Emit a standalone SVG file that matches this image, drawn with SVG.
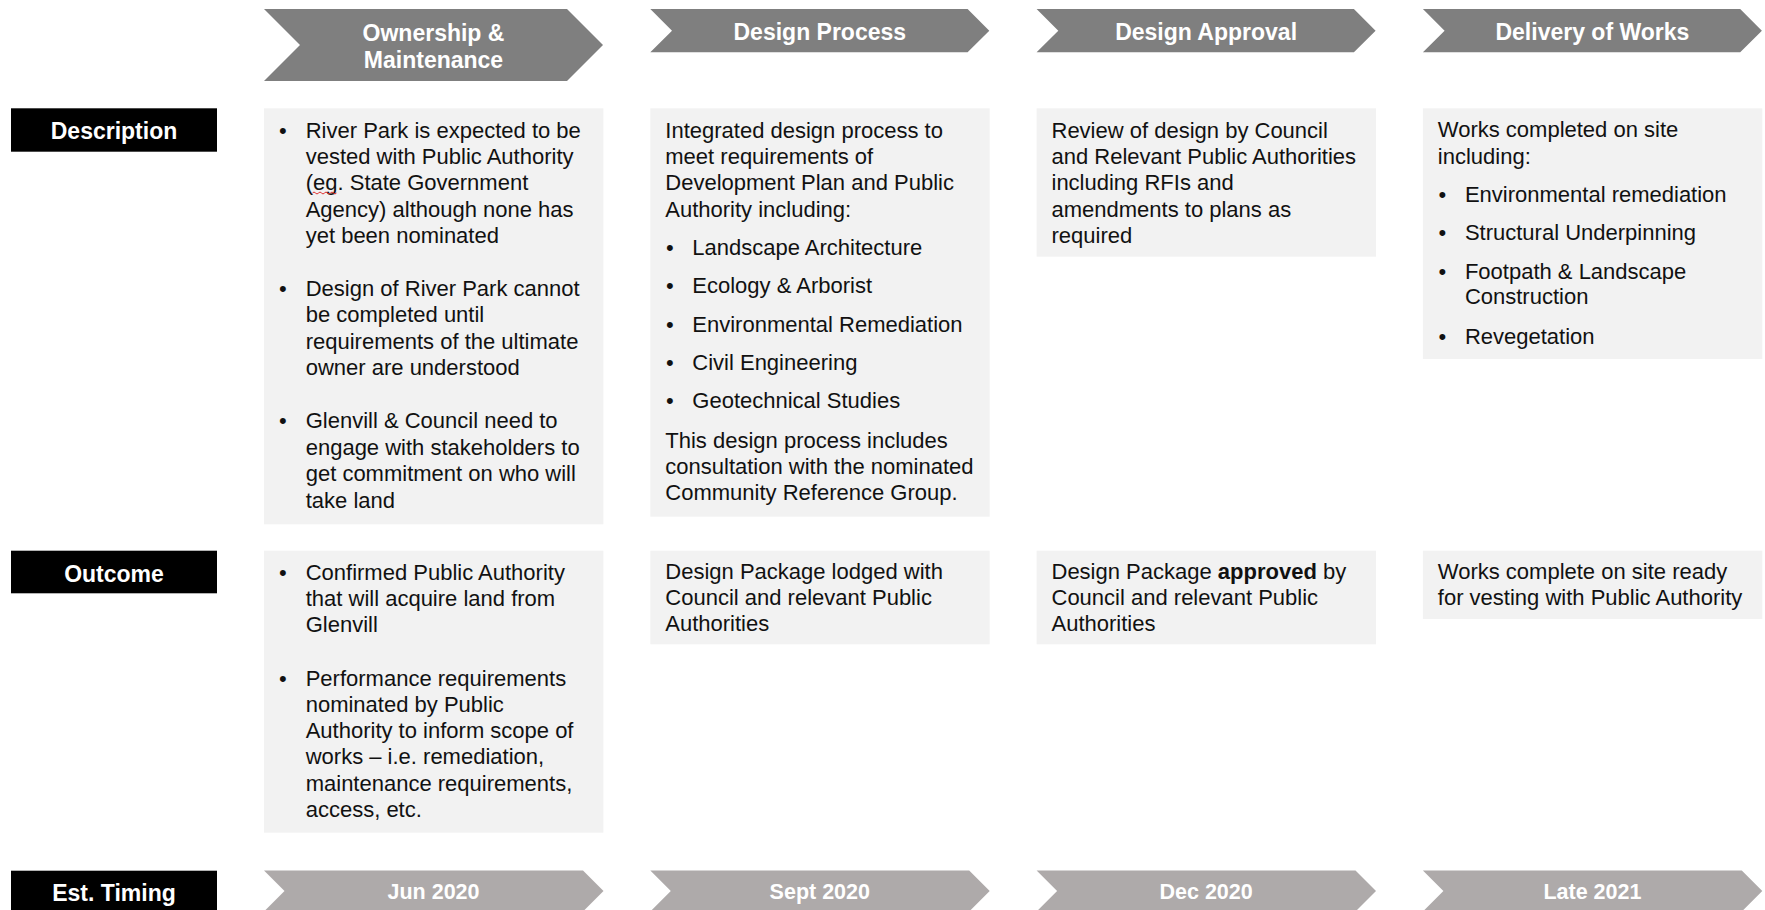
<svg xmlns="http://www.w3.org/2000/svg" width="1765" height="910" viewBox="0 0 1765 910">
<style>
text{font-family:"Liberation Sans",Arial,sans-serif}
.hdr{fill:#7F7F7F}
.tim{fill:#AEAAAA}
.lbl{fill:#000}
.box{fill:#F2F2F2}
.ht{fill:#fff;font-weight:bold;font-size:23px;text-anchor:middle}
.tt{fill:#fff;font-weight:bold;font-size:21.5px;text-anchor:middle}
.lt{fill:#fff;font-weight:bold;font-size:23px;text-anchor:middle}
.bt{fill:#111;font-size:22px}
.b{font-weight:bold}
</style>
<rect width="1765" height="910" fill="#fff"/>

<g id="label-description"><rect class="lbl" x="11" y="108.3" width="206" height="43.4"/><text class="lt" x="114" y="139.3">Description</text></g>
<g id="label-outcome"><rect class="lbl" x="11" y="550.7" width="206" height="42.6"/><text class="lt" x="114" y="581.5">Outcome</text></g>
<g id="label-timing"><rect class="lbl" x="11" y="870.7" width="206" height="45"/><text class="lt" x="114" y="900.5">Est. Timing</text></g>

<g id="hdr-ownership"><polygon class="hdr" points="264,9 567,9 603,45 567,81 264,81 300,45"/><text class="ht" x="433.5" y="40.5">Ownership &amp;</text><text class="ht" x="433.5" y="68">Maintenance</text></g>
<g id="hdr-design-process"><polygon class="hdr" points="650.3,9 967.6,9 989.3,30.7 967.6,52.3 650.3,52.3 672,30.7"/><text class="ht" x="819.8" y="40">Design Process</text></g>
<g id="hdr-design-approval"><polygon class="hdr" points="1036.6,9 1353.9,9 1375.6,30.7 1353.9,52.3 1036.6,52.3 1058.3,30.7"/><text class="ht" x="1206.1" y="40">Design Approval</text></g>
<g id="hdr-delivery"><polygon class="hdr" points="1422.9,9 1740.2,9 1761.9,30.7 1740.2,52.3 1422.9,52.3 1444.6,30.7"/><text class="ht" x="1592.4" y="40">Delivery of Works</text></g>

<g id="desc-ownership">
<rect class="box" x="264" y="108.3" width="339.4" height="416"/>
<text class="bt"><tspan x="279" y="137.5">•</tspan><tspan x="305.7" y="137.5">River Park is expected to be</tspan><tspan x="305.7" y="163.9">vested with Public Authority</tspan><tspan x="305.7" y="190.3">(eg. State Government</tspan><tspan x="305.7" y="216.7">Agency) although none has</tspan><tspan x="305.7" y="243.1">yet been nominated</tspan></text>
<path d="M312.5,193 q1.5,-2 3,0 t3,0 t3,0 t3,0 t3,0 t3,0 t3,0 t3,0" fill="none" stroke="#e03030" stroke-width="1"/>
<text class="bt"><tspan x="279" y="295.9">•</tspan><tspan x="305.7" y="295.9">Design of River Park cannot</tspan><tspan x="305.7" y="322.3">be completed until</tspan><tspan x="305.7" y="348.7">requirements of the ultimate</tspan><tspan x="305.7" y="375.1">owner are understood</tspan></text>
<text class="bt"><tspan x="279" y="428.3">•</tspan><tspan x="305.7" y="428.3">Glenvill &amp; Council need to</tspan><tspan x="305.7" y="454.7">engage with stakeholders to</tspan><tspan x="305.7" y="481.1">get commitment on who will</tspan><tspan x="305.7" y="507.5">take land</tspan></text>
</g>

<g id="desc-design-process">
<rect class="box" x="650.3" y="108.3" width="339.4" height="408.4"/>
<text class="bt"><tspan x="665.3" y="137.5">Integrated design process to</tspan><tspan x="665.3" y="163.9">meet requirements of</tspan><tspan x="665.3" y="190.3">Development Plan and Public</tspan><tspan x="665.3" y="216.7">Authority including:</tspan></text>
<text class="bt"><tspan x="666" y="255.2">•</tspan><tspan x="692.3" y="255.2">Landscape Architecture</tspan><tspan x="666" y="293.4">•</tspan><tspan x="692.3" y="293.4">Ecology &amp; Arborist</tspan><tspan x="666" y="331.6">•</tspan><tspan x="692.3" y="331.6">Environmental Remediation</tspan><tspan x="666" y="369.8">•</tspan><tspan x="692.3" y="369.8">Civil Engineering</tspan><tspan x="666" y="408">•</tspan><tspan x="692.3" y="408">Geotechnical Studies</tspan></text>
<text class="bt"><tspan x="665.3" y="447.5">This design process includes</tspan><tspan x="665.3" y="473.5">consultation with the nominated</tspan><tspan x="665.3" y="499.8">Community Reference Group.</tspan></text>
</g>

<g id="desc-design-approval">
<rect class="box" x="1036.6" y="108.3" width="339.4" height="148.4"/>
<text class="bt"><tspan x="1051.5" y="137.5">Review of design by Council</tspan><tspan x="1051.5" y="163.9">and Relevant Public Authorities</tspan><tspan x="1051.5" y="190.3">including RFIs and</tspan><tspan x="1051.5" y="216.7">amendments to plans as</tspan><tspan x="1051.5" y="243.1">required</tspan></text>
</g>

<g id="desc-delivery">
<rect class="box" x="1422.9" y="108.3" width="339.4" height="250.7"/>
<text class="bt"><tspan x="1437.8" y="137">Works completed on site</tspan><tspan x="1437.8" y="163.5">including:</tspan></text>
<text class="bt"><tspan x="1438.5" y="201.5">•</tspan><tspan x="1464.9" y="201.5">Environmental remediation</tspan><tspan x="1438.5" y="240.2">•</tspan><tspan x="1464.9" y="240.2">Structural Underpinning</tspan><tspan x="1438.5" y="279.2">•</tspan><tspan x="1464.9" y="279.2">Footpath &amp; Landscape</tspan><tspan x="1464.9" y="304.4">Construction</tspan><tspan x="1438.5" y="343.5">•</tspan><tspan x="1464.9" y="343.5">Revegetation</tspan></text>
</g>

<g id="out-ownership">
<rect class="box" x="264" y="550.7" width="339.4" height="282"/>
<text class="bt"><tspan x="279" y="579.5">•</tspan><tspan x="305.7" y="579.5">Confirmed Public Authority</tspan><tspan x="305.7" y="605.9">that will acquire land from</tspan><tspan x="305.7" y="632.3">Glenvill</tspan></text>
<text class="bt"><tspan x="279" y="685.5">•</tspan><tspan x="305.7" y="685.5">Performance requirements</tspan><tspan x="305.7" y="711.7">nominated by Public</tspan><tspan x="305.7" y="738">Authority to inform scope of</tspan><tspan x="305.7" y="764.3">works – i.e. remediation,</tspan><tspan x="305.7" y="790.6">maintenance requirements,</tspan><tspan x="305.7" y="817">access, etc.</tspan></text>
</g>

<g id="out-design-process">
<rect class="box" x="650.3" y="550.7" width="339.4" height="93.6"/>
<text class="bt"><tspan x="665.3" y="579.3">Design Package lodged with</tspan><tspan x="665.3" y="605.4">Council and relevant Public</tspan><tspan x="665.3" y="631.3">Authorities</tspan></text>
</g>

<g id="out-design-approval">
<rect class="box" x="1036.6" y="550.7" width="339.4" height="93.6"/>
<text class="bt"><tspan x="1051.5" y="579.3">Design Package <tspan class="b">approved</tspan> by</tspan><tspan x="1051.5" y="605.4">Council and relevant Public</tspan><tspan x="1051.5" y="631.3">Authorities</tspan></text>
</g>

<g id="out-delivery">
<rect class="box" x="1422.9" y="550.7" width="339.4" height="68.3"/>
<text class="bt"><tspan x="1437.8" y="579.3">Works complete on site ready</tspan><tspan x="1437.8" y="605.4">for vesting with Public Authority</tspan></text>
</g>

<g id="tim-ownership"><polygon class="tim" points="264,870.5 583,870.5 603.5,891 583,911.5 264,911.5 284.5,891"/><text class="tt" x="433.5" y="899">Jun 2020</text></g>
<g id="tim-design-process"><polygon class="tim" points="650.3,870.5 969.2,870.5 989.7,891 969.2,911.5 650.3,911.5 670.8,891"/><text class="tt" x="819.8" y="899">Sept 2020</text></g>
<g id="tim-design-approval"><polygon class="tim" points="1036.6,870.5 1355.5,870.5 1376,891 1355.5,911.5 1036.6,911.5 1057.1,891"/><text class="tt" x="1206.1" y="899">Dec 2020</text></g>
<g id="tim-delivery"><polygon class="tim" points="1422.9,870.5 1741.8,870.5 1762.3,891 1741.8,911.5 1422.9,911.5 1443.4,891"/><text class="tt" x="1592.4" y="899">Late 2021</text></g>

<g id="connectors"></g>
</svg>
